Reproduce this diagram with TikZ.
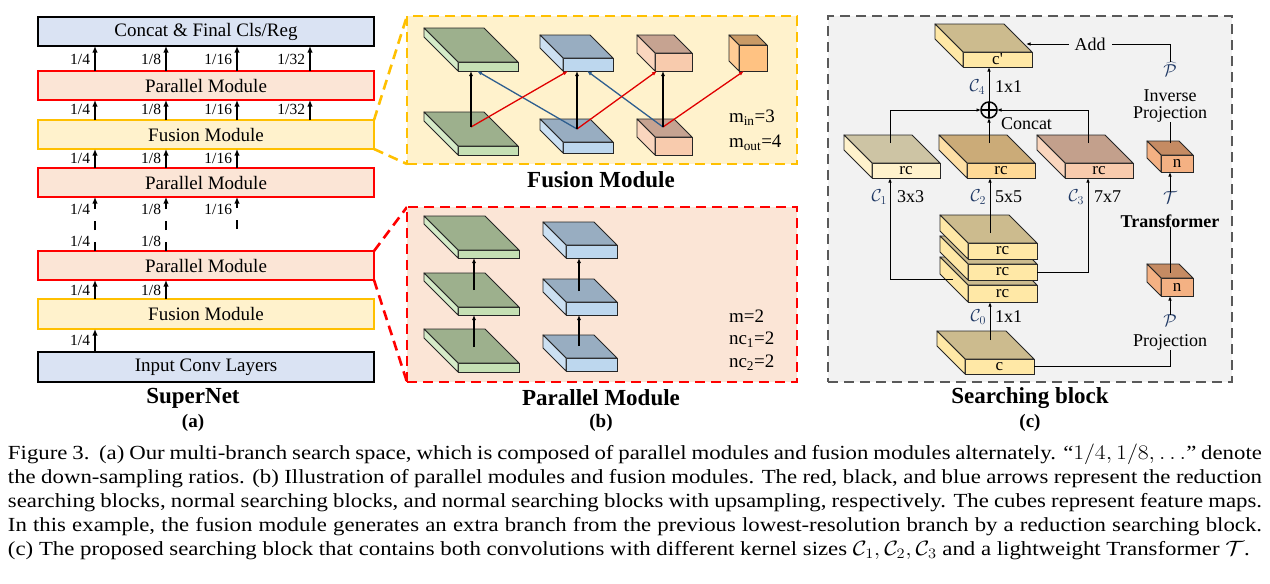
\documentclass[tikz,border=0pt]{standalone}
\usepackage{graphicx}
\usepackage{fontspec}
\setmainfont{Liberation Serif}
\usetikzlibrary{arrows.meta,calc}
\definecolor{gtop}{HTML}{9DB08D}
\definecolor{gfront}{HTML}{C5E0B4}
\definecolor{gside}{HTML}{D5EBC8}
\definecolor{btop}{HTML}{98ADC1}
\definecolor{bfront}{HTML}{BDD7EE}
\definecolor{bside}{HTML}{CCE0F2}
\definecolor{ptop}{HTML}{C6A391}
\definecolor{pfront}{HTML}{F8CBAD}
\definecolor{pside}{HTML}{FAD6BE}
\definecolor{otop}{HTML}{C99A66}
\definecolor{ofront}{HTML}{FFC282}
\definecolor{oside}{HTML}{FFCC95}
\definecolor{ytop}{HTML}{CCBB8E}
\definecolor{yfront}{HTML}{FFE8A6}
\definecolor{r1top}{HTML}{CDC4A4}
\definecolor{r1front}{HTML}{FFF2CC}
\definecolor{r2top}{HTML}{CBAB78}
\definecolor{r2front}{HTML}{FFD996}
\definecolor{r2side}{HTML}{FFE0A6}
\definecolor{r3top}{HTML}{C3A08C}
\definecolor{ntop}{HTML}{C58B63}
\definecolor{nfront}{HTML}{F4B183}
\definecolor{bluebox}{HTML}{DAE3F3}
\definecolor{redfill}{HTML}{FBE5D6}
\definecolor{yelfill}{HTML}{FFF2CC}
\definecolor{yelline}{HTML}{FFC000}
\definecolor{grayfill}{HTML}{F2F2F2}
\definecolor{grayline}{HTML}{595959}
\definecolor{arrred}{HTML}{E00000}
\definecolor{arrblue}{HTML}{2F5F8F}
\definecolor{navy}{HTML}{1F3864}
\newcommand{\cub}[9]{%
  \node[cubef, fill=#7, minimum width=#3pt, minimum height=#4pt] (#1) at (#2) {#9};
  \draw[cubee, fill=#6] (#1.north west) -- ++(-#5,-#5) -- ++(#3,0) -- (#1.north east) -- cycle;
  \draw[cubee, fill=#8] (#1.north west) -- ++(-#5,-#5) -- ++(0,#4) -- (#1.south west) -- cycle;
}
\newcommand{\capl}[1]{\scalebox{1.14}[1]{\makebox[1100pt][s]{#1}}}
\begin{document}
\begin{tikzpicture}[x=1pt,y=-1pt,
  every node/.style={inner sep=0pt, outer sep=0pt},
  modbox/.style={draw, line width=2pt, minimum width=336pt, minimum height=29pt, font=\fontsize{19}{22}\selectfont},
  modblue/.style={modbox, fill=bluebox, draw=black},
  modred/.style={modbox, fill=redfill, draw=red},
  modyel/.style={modbox, fill=yelfill, draw=yelline},
  ratio/.style={font=\fontsize{15.5}{18}\selectfont, anchor=east},
  uparr/.style={-{Latex[length=6.5pt,width=5.5pt]}, line width=1.8pt},
  cubef/.style={draw=black!85, line width=0.9pt, font=\fontsize{17}{20}\selectfont},
  cubee/.style={draw=black!85, line width=0.9pt, line join=round},
  barr/.style={-{Latex[length=5pt,width=4pt]}, line width=1.6pt},
  rarr/.style={line width=1.3pt, draw=arrred, arrows={-{Latex[length=5pt,width=4pt,color=arrred]}}},
  larr/.style={line width=1.3pt, draw=arrblue, arrows={-{Latex[length=5pt,width=4pt,color=arrblue]}}},
  carr/.style={-{Latex[length=4.5pt,width=3.5pt]}, line width=0.9pt},
  cline/.style={line width=0.9pt},
  txt/.style={font=\fontsize{18}{21}\selectfont},
  cal/.style={text=navy, font=\fontsize{18}{21}\selectfont},
  ttl/.style={font=\bfseries\fontsize{23}{26}\selectfont},
  sublbl/.style={font=\bfseries\fontsize{19}{22}\selectfont},
  capline/.style={anchor=base west, font=\fontsize{20}{24}\selectfont},
  pdash/.style={line width=2.6pt, dash pattern=on 10pt off 6pt}
]
\useasboundingbox (0,0) rectangle (1270,584);
\fill[white] (0,0) rectangle (1270,584);

% ---------- panel boxes (b), (c)
\draw[pdash, draw=yelline] (374,120) -- (407,16);
\draw[pdash, draw=yelline] (374,149) -- (407,164);
\draw[pdash, draw=red] (374,251) -- (407,207);
\draw[pdash, draw=red] (374,280) -- (407,382);
\node[pdash, draw=yelline, fill=yelfill, minimum width=390pt, minimum height=148pt] (fb) at (602,90) {};
\node[pdash, draw=red, fill=redfill, minimum width=390pt, minimum height=175pt] (pb) at (602,294.5) {};
\node[pdash, draw=grayline, fill=grayfill, minimum width=404pt, minimum height=366pt] (sb) at (1030,199) {};

% ---------- panel (a)
\node[modblue] (cat) at (206,31.5) {Concat \& Final Cls/Reg};
\node[modred] (pm1) at (206,85.5) {Parallel Module};
\node[modyel] (fm1) at (206,134.5) {Fusion Module};
\node[modred] (pm2) at (206,182.5) {Parallel Module};
\node[modred] (pm3) at (206,265.5) {Parallel Module};
\node[modyel, minimum height=30pt] (fm2) at (206,314) {Fusion Module};
\node[modblue, minimum height=30pt] (inp) at (206,367) {Input Conv Layers};

\foreach \x/\t in {95/1\slash 4,166/1\slash 8,237/1\slash 16,310/1\slash 32}{
  \coordinate (k) at (\x,0);
  \draw[uparr] (pm1.north -| k) -- (cat.south -| k);
  \node[ratio] at (\x-5,59) {\t};
  \draw[uparr] (fm1.north -| k) -- (pm1.south -| k);
  \node[ratio] at (\x-5,109) {\t};
}
\foreach \x/\t in {95/1\slash 4,166/1\slash 8,237/1\slash 16}{
  \coordinate (k) at (\x,0);
  \draw[uparr] (pm2.north -| k) -- (fm1.south -| k);
  \node[ratio] at (\x-5,158) {\t};
  \node[ratio] at (\x-5,209) {\t};
}
\foreach \x/\t in {95/1\slash 4,166/1\slash 8}{
  \coordinate (k) at (\x,0);
  \draw[uparr, dash pattern=on 9pt off 12pt] (pm3.north -| k) -- (pm2.south -| k);
  \node[ratio] at (\x-5,241) {\t};
  \draw[uparr] (fm2.north -| k) -- (pm3.south -| k);
  \node[ratio] at (\x-5,290) {\t};
}
\coordinate (d16) at (237,229);
\draw[uparr, dash pattern=on 9pt off 12pt] (d16) -- (pm2.south -| d16);
\coordinate (k) at (95,0);
\draw[uparr] (inp.north -| k) -- (fm2.south -| k);
\node[ratio] at (90,340) {1/4};
\node[ttl] at (193,398) {SuperNet};
\node[sublbl] at (193,423) {(a)};

% ---------- panel (b): fusion module
\cub{FgT}{488,66.5}{60}{9}{34}{gtop}{gfront}{gside}{}
\cub{FbT}{588,64.5}{50}{13}{23}{btop}{bfront}{bside}{}
\cub{FpT}{673.5,62}{37}{18}{18}{ptop}{pfront}{pside}{}
\cub{FoT}{753,58}{28}{26}{10}{otop}{ofront}{oside}{}
\cub{FgB}{488,150.5}{60}{9}{34}{gtop}{gfront}{gside}{}
\cub{FbB}{588,147.5}{50}{11}{23}{btop}{bfront}{bside}{}
\cub{FpB}{673.5,146}{37}{18}{18}{ptop}{pfront}{pside}{}
\coordinate (sg) at (471,127);
\coordinate (sbl) at (577,129);
\coordinate (sp) at (663,127);
\draw[larr] (sbl) -- ($(FgT.south west)+(19,0)$);
\draw[larr] (sp) -- ($(FbT.south west)+(24,0)$);
\draw[rarr] (sg) -- ($(FbT.south west)+(5,0)$);
\draw[rarr] (sbl) -- ($(FpT.south west)+(2,0)$);
\draw[rarr] (sp) -- ($(FoT.south west)+(5,0)$);
\draw[barr] (sg) -- (FgT.south -| sg);
\draw[barr] (sbl) -- (FbT.south -| sbl);
\draw[barr] (sp) -- (FpT.south -| sp);
\node[txt, anchor=west, font=\fontsize{19}{22}\selectfont] at (729,118) {m\textsubscript{in}=3};
\node[txt, anchor=west, font=\fontsize{19}{22}\selectfont] at (729,143) {m\textsubscript{out}=4};
\node[ttl] at (601,180) {Fusion Module};

% ---------- panel (b): parallel module
\cub{PgT}{488.5,254}{61}{8}{34}{gtop}{gfront}{gside}{}
\cub{PgM}{488.5,311}{61}{8}{34}{gtop}{gfront}{gside}{}
\cub{PgB}{488.5,367.5}{61}{9}{34}{gtop}{gfront}{gside}{}
\cub{PbT}{591.5,251.5}{51}{13}{23}{btop}{bfront}{bside}{}
\cub{PbM}{591.5,308.5}{51}{13}{23}{btop}{bfront}{bside}{}
\cub{PbB}{591.5,364.5}{51}{13}{23}{btop}{bfront}{bside}{}
\coordinate (pg1) at (474,347);
\coordinate (pg2) at (474,290);
\coordinate (pb1) at (579,346);
\coordinate (pb2) at (579,291);
\draw[barr] (pg1) -- (PgM.south -| pg1);
\draw[barr] (pg2) -- (PgT.south -| pg2);
\draw[barr] (pb1) -- (PbM.south -| pb1);
\draw[barr] (pb2) -- (PbT.south -| pb2);
\node[txt, anchor=west, font=\fontsize{19}{22}\selectfont] at (729,316) {m=2};
\node[txt, anchor=west, font=\fontsize{19}{22}\selectfont] at (729,340) {nc\textsubscript{1}=2};
\node[txt, anchor=west, font=\fontsize{19}{22}\selectfont] at (729,363) {nc\textsubscript{2}=2};
\node[ttl] at (601,398) {Parallel Module};
\node[sublbl] at (601,423) {(b)};

% ---------- panel (c): searching block
\cub{cp}{997.5,59.5}{69}{15}{28}{ytop}{yfront}{yfront}{c\textquotesingle}
\cub{rc1}{906,170.5}{68}{15}{28}{r1top}{r1front}{r1front}{rc}
\cub{rc2}{1001,170.5}{68}{15}{28}{r2top}{r2front}{r2side}{rc}
\cub{rc3}{1099,170.5}{68}{15}{28}{r3top}{pfront}{pside}{rc}
\cub{n1}{1177,163.5}{32}{17}{14}{ntop}{nfront}{nfront}{n}
\cub{n2}{1177,287}{32}{18}{14}{ntop}{nfront}{nfront}{n}
\cub{s3}{1002.5,293.5}{69}{17}{28}{ytop}{yfront}{yfront}{rc}
\cub{s2}{1002.5,272}{69}{16}{28}{ytop}{yfront}{yfront}{rc}
\cub{s1}{1002.5,251}{69}{16}{28}{ytop}{yfront}{yfront}{rc}
\cub{c}{999.5,366.5}{69}{15}{28}{ytop}{yfront}{yfront}{c}

\node[draw, circle, line width=1.5pt, minimum size=16pt,
  path picture={\draw[line width=1.5pt] (path picture bounding box.north) -- (path picture bounding box.south)
    (path picture bounding box.west) -- (path picture bounding box.east);}] (cc) at (989,110) {};
\node[txt, anchor=west] at (1001,124) {Concat};

\coordinate (c0s) at (990,340);
\draw[carr] (c0s) -- (s3.south -| c0s);
\node[cal, anchor=east] at (986,317) {$\mathcal{C}_0$};
\node[txt, anchor=west] at (995,317) {1x1};
\coordinate (c2s) at (990,233);
\draw[carr] (c2s) -- (rc2.south -| c2s);
\coordinate (c1s) at (953,279);
\draw[carr] (c1s) -| ($(rc1.south west)+(18,0)$);
\draw[carr] (s2.east) -| ($(rc3.south west)+(23,0)$);
\node[cal, anchor=east] at (887,197) {$\mathcal{C}_1$};
\node[txt, anchor=west] at (897,197) {3x3};
\node[cal, anchor=east] at (986,197) {$\mathcal{C}_2$};
\node[txt, anchor=west] at (995,197) {5x5};
\node[cal, anchor=east] at (1084,197) {$\mathcal{C}_3$};
\node[txt, anchor=west] at (1094,197) {7x7};

\coordinate (r1t) at (890,143);
\coordinate (r2t) at (989,143);
\coordinate (r3t) at (1088,143);
\draw[carr] (r1t) |- (cc.west);
\draw[carr] (r3t) |- (cc.east);
\draw[carr] (r2t) -- (cc.south);
\draw[carr] (cc.north) -- (cp.south -| cc.north);
\node[cal, anchor=east] at (985,87) {$\mathcal{C}_4$};
\node[txt, anchor=west] at (995,87) {1x1};

\node[txt] (add) at (1090,44) {Add};
\node[cal] (phat) at (1170,69) {$\widehat{\mathcal{P}}$};
\node[txt, align=center, font=\fontsize{18}{17}\selectfont] (invp) at (1170,106) {Inverse\\Projection};
\coordinate (n1t) at (1170,143);
\coordinate (cpin) at (1026,44);
\draw[cline] (n1t) -- (invp.south);
\draw[cline] (phat.north) |- ($(add.east)+(6,0)$);
\draw[carr] ($(add.west)+(-6,0)$) -- (cpin);
\node[cal] (tt) at (1170,198) {$\mathcal{T}$};
\draw[carr] (tt.north) -- (n1.south -| tt.north);
\node[txt, font=\bfseries\fontsize{18}{21}\selectfont] (trf) at (1170,221) {Transformer};
\coordinate (n2t) at (1170,273);
\draw[cline] (trf.south) -- (n2t);
\node[cal] (pp) at (1170,321) {$\mathcal{P}$};
\draw[carr] (pp.north) -- (n2.south -| pp.north);
\node[txt] (proj) at (1170,342) {Projection};
\draw[cline] (c.east) -| (proj.south);
\node[ttl] at (1030,398) {Searching block};
\node[sublbl] at (1030,423) {(c)};

% ---------- caption
\node[capline] (cap1) at (8,459) {\capl{Figure 3.~~(a) Our multi-branch search space, which is composed of parallel modules and fusion modules alternately. ``$1/4, 1/8, \ldots$'' denote}};
\node[capline] (cap2) at (8,483) {\capl{the down-sampling ratios. (b) Illustration of parallel modules and fusion modules. The red, black, and blue arrows represent the reduction}};
\node[capline] (cap3) at (8,507) {\capl{searching blocks, normal searching blocks, and normal searching blocks with upsampling, respectively. The cubes represent feature maps.}};
\node[capline] (cap4) at (8,531) {\capl{In this example, the fusion module generates an extra branch from the previous lowest-resolution branch by a reduction searching block.}};
\node[capline] (cap5) at (8,555) {\scalebox{1.14}[1]{(c) The proposed searching block that contains both convolutions with different kernel sizes $\mathcal{C}_1, \mathcal{C}_2, \mathcal{C}_3$ and a lightweight Transformer $\mathcal{T}$.}};
\end{tikzpicture}
\end{document}
